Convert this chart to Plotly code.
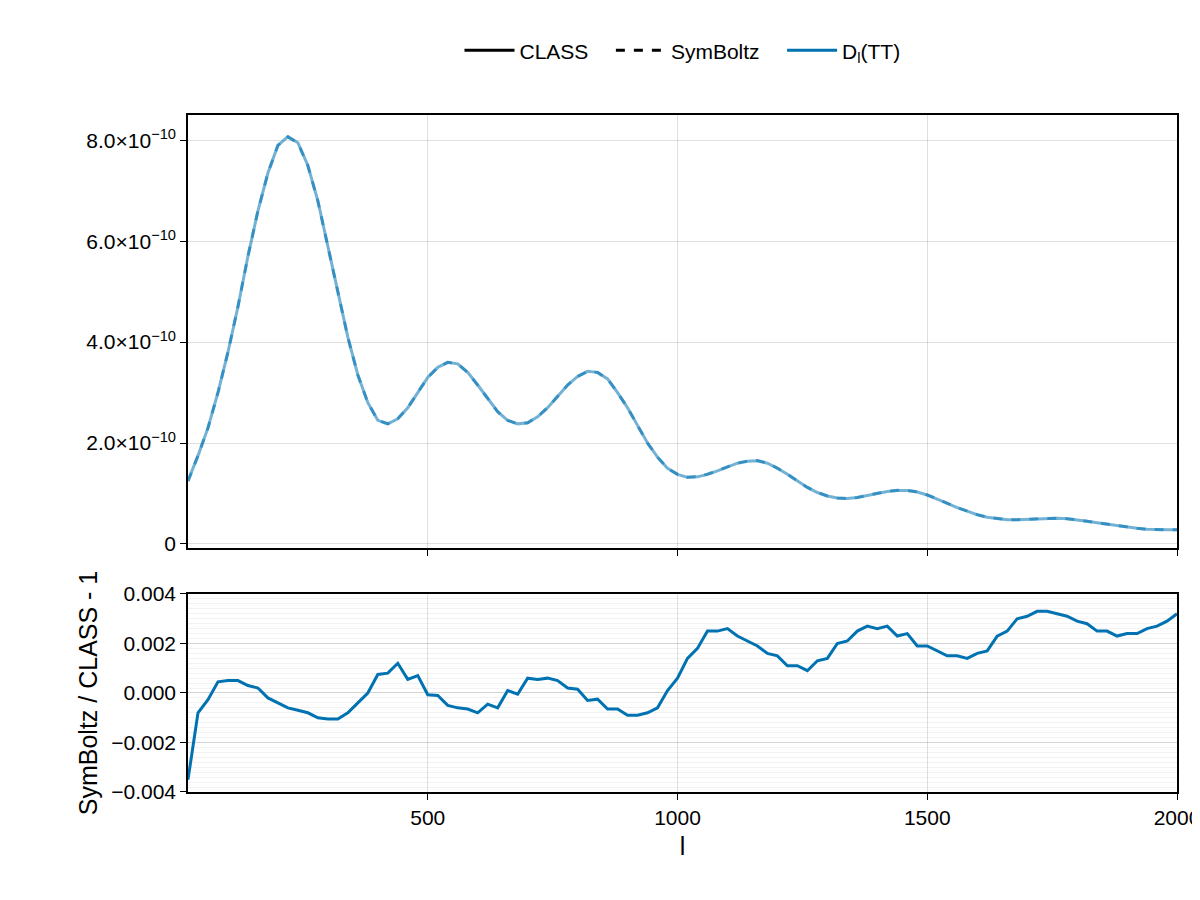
import plotly.graph_objects as go

ell = list(range(20, 2001, 20))

# D_l(TT) from CLASS, in units of 1e-10
class_dl = [1.25, 1.75, 2.3, 3.0, 3.8, 4.7, 5.7, 6.6, 7.35, 7.9,
            8.07, 7.95, 7.5, 6.8, 5.9, 5.0, 4.1, 3.35, 2.8, 2.45,
            2.38, 2.48, 2.7, 3.0, 3.3, 3.5, 3.6, 3.57, 3.4, 3.15,
            2.88, 2.62, 2.45, 2.38, 2.4, 2.52, 2.7, 2.92, 3.15, 3.32,
            3.42, 3.4, 3.27, 3.0, 2.7, 2.35, 2.0, 1.72, 1.5, 1.38,
            1.32, 1.33, 1.38, 1.45, 1.53, 1.6, 1.64, 1.65, 1.6, 1.5,
            1.38, 1.25, 1.12, 1.02, 0.95, 0.91, 0.9, 0.92, 0.96, 1.0,
            1.04, 1.06, 1.06, 1.03, 0.97, 0.89, 0.8, 0.72, 0.65, 0.58,
            0.53, 0.5, 0.48, 0.48, 0.49, 0.5, 0.51, 0.51, 0.5, 0.48,
            0.45, 0.42, 0.39, 0.36, 0.33, 0.31, 0.29, 0.28, 0.28, 0.28]

# SymBoltz / CLASS - 1
resid = [-0.0035, -0.0008, -0.00027, 0.00045, 0.0005, 0.0005, 0.0003, 0.0002, -0.0002, -0.0004,
         -0.0006, -0.0007, -0.0008, -0.001, -0.00105, -0.00105, -0.0008, -0.0004, 0.0, 0.00075,
         0.0008, 0.0012, 0.00055, 0.0007, -0.00007, -0.0001, -0.0005, -0.0006, -0.00065, -0.0008,
         -0.00045, -0.0006, 0.0001, -0.00005, 0.0006, 0.00055, 0.0006, 0.0005, 0.0002, 0.00015,
         -0.0003, -0.00025, -0.00065, -0.00065, -0.0009, -0.0009, -0.0008, -0.0006, 0.0001, 0.0006,
         0.0014, 0.0018, 0.0025, 0.0025, 0.0026, 0.0023, 0.0021, 0.0019, 0.0016, 0.0015,
         0.0011, 0.0011, 0.0009, 0.0013, 0.0014, 0.002, 0.0021, 0.0025, 0.0027, 0.0026,
         0.0027, 0.0023, 0.0024, 0.0019, 0.0019, 0.0017, 0.0015, 0.0015, 0.0014, 0.0016,
         0.0017, 0.0023, 0.0025, 0.003, 0.0031, 0.0033, 0.0033, 0.0032, 0.0031, 0.0029,
         0.0028, 0.0025, 0.0025, 0.0023, 0.0024, 0.0024, 0.0026, 0.0027, 0.0029, 0.0032]

top_ticks = [0, 2e-10, 4e-10, 6e-10, 8e-10]
top_labels = ["0", "2.0×10<sup>−10</sup>", "4.0×10<sup>−10</sup>",
              "6.0×10<sup>−10</sup>", "8.0×10<sup>−10</sup>"]
bot_ticks = [-0.004, -0.002, 0.0, 0.002, 0.004]
bot_labels = ["−0.004", "−0.002", "0.000", "0.002", "0.004"]

class_vals = [v * 1e-10 for v in class_dl]
sym_vals = [c * (1 + r) for c, r in zip(class_vals, resid)]

blue = "rgb(0,114,178)"
fig = go.Figure()
fig.add_trace(go.Scatter(x=ell, y=class_vals, mode="lines", showlegend=False,
                         line=dict(color="rgba(0,114,178,0.55)", width=3), xaxis="x", yaxis="y"))
fig.add_trace(go.Scatter(x=ell, y=sym_vals, mode="lines", showlegend=False,
                         line=dict(color="rgba(0,114,178,0.55)", width=3, dash="dash"), xaxis="x", yaxis="y"))
fig.add_trace(go.Scatter(x=ell, y=resid, mode="lines", showlegend=False,
                         line=dict(color=blue, width=3), xaxis="x2", yaxis="y2"))

# legend entries
fig.add_trace(go.Scatter(x=[None], y=[None], mode="lines", name="CLASS   ",
                         line=dict(color="black", width=3)))
fig.add_trace(go.Scatter(x=[None], y=[None], mode="lines", name="SymBoltz   ",
                         line=dict(color="black", width=3, dash="dash")))
fig.add_trace(go.Scatter(x=[None], y=[None], mode="lines", name="D<sub>l</sub>(TT)",
                         line=dict(color=blue, width=3)))

axis_common = dict(showline=True, linecolor="black", linewidth=1.5, mirror=True,
                   ticks="outside", tickcolor="black", ticklen=6, zeroline=False,
                   automargin=False, gridcolor="rgba(0,0,0,0.12)")

fig.update_layout(
    width=1200, height=900,
    margin=dict(l=180, r=31, t=107, b=116),
    plot_bgcolor="white", paper_bgcolor="white",
    font=dict(family="Liberation Sans, Arial, sans-serif", size=21, color="black"),
    xaxis=dict(range=[20, 2000], tickvals=[500, 1000, 1500, 2000], showticklabels=False,
               anchor="y", **axis_common),
    yaxis=dict(domain=[0.3604, 1], range=[-0.08e-10, 8.5e-10], tickvals=top_ticks,
               ticktext=top_labels, **axis_common),
    xaxis2=dict(range=[20, 2000], tickvals=[500, 1000, 1500, 2000], anchor="y2",
                title=dict(text="l", standoff=10), **axis_common),
    yaxis2=dict(domain=[0, 0.2925], range=[-0.004, 0.004], tickvals=bot_ticks,
                ticktext=bot_labels, anchor="x2",
                title=dict(text="SymBoltz / CLASS - 1", standoff=6),
                minor=dict(dtick=0.0002, showgrid=True, gridcolor="rgba(0,0,0,0.05)", ticks=""),
                **axis_common),
    legend=dict(orientation="h", x=0.5, xanchor="center", y=1.095, yanchor="middle",
                font=dict(size=21), itemwidth=50),
)

fig.write_html("out.html")
